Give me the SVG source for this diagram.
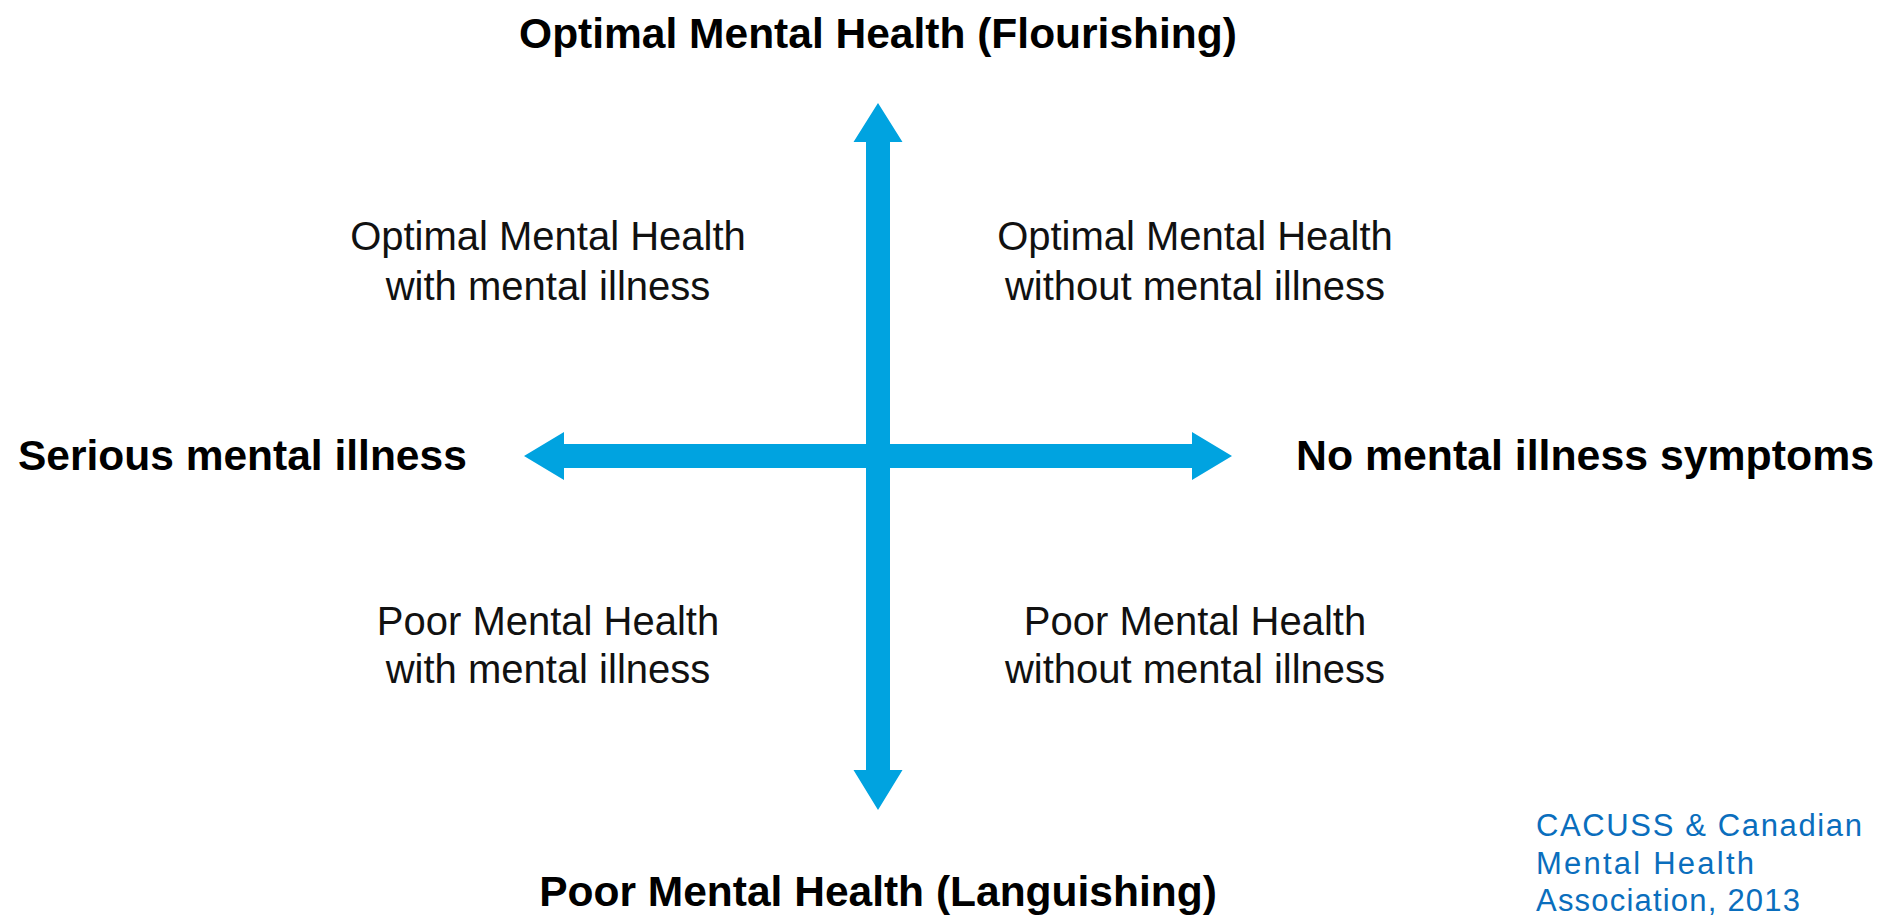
<svg xmlns="http://www.w3.org/2000/svg" width="1890" height="915" viewBox="0 0 1890 915">
<style>
.axis{font-family:"Liberation Sans",Arial,Helvetica,sans-serif;font-weight:bold;font-size:42.5px;fill:#000;}
.quad{font-family:"Liberation Sans",Arial,Helvetica,sans-serif;font-size:40px;fill:#111;text-anchor:middle;}
.cite{font-family:"Liberation Sans",Arial,sans-serif;font-size:31px;fill:#0A6EBD;}
.arrow{fill:#00A3E0;}
</style>
<rect width="1890" height="915" fill="#fff"/>
<g id="connectors">
  <polygon class="arrow" points="878,103 902.5,142 890,142 890,770 902.5,770 878,810 853.5,770 866,770 866,142 853.5,142"/>
  <polygon class="arrow" points="524,456 564,432 564,444 1192,444 1192,432 1232,456 1192,480 1192,468 564,468 564,480"/>
</g>
<g id="top-label"><text class="axis" x="878" y="48" text-anchor="middle">Optimal Mental Health (Flourishing)</text></g>
<g id="bottom-label"><text class="axis" x="878" y="906" text-anchor="middle">Poor Mental Health (Languishing)</text></g>
<g id="left-label"><text class="axis" x="18" y="470">Serious mental illness</text></g>
<g id="right-label"><text class="axis" x="1296" y="470" textLength="578" lengthAdjust="spacingAndGlyphs">No mental illness symptoms</text></g>
<g id="quadrant-tl"><text class="quad" x="548" y="250">Optimal Mental Health</text><text class="quad" x="548" y="300">with mental illness</text></g>
<g id="quadrant-tr"><text class="quad" x="1195" y="250">Optimal Mental Health</text><text class="quad" x="1195" y="300">without mental illness</text></g>
<g id="quadrant-bl"><text class="quad" x="548" y="635">Poor Mental Health</text><text class="quad" x="548" y="683">with mental illness</text></g>
<g id="quadrant-br"><text class="quad" x="1195" y="635">Poor Mental Health</text><text class="quad" x="1195" y="683">without mental illness</text></g>
<g id="citation">
  <text class="cite" x="1536" y="836" textLength="326" lengthAdjust="spacing">CACUSS &amp; Canadian</text>
  <text class="cite" x="1536" y="874" textLength="218" lengthAdjust="spacing">Mental Health</text>
  <text class="cite" x="1536" y="911" textLength="264" lengthAdjust="spacing">Association, 2013</text>
</g>
</svg>
